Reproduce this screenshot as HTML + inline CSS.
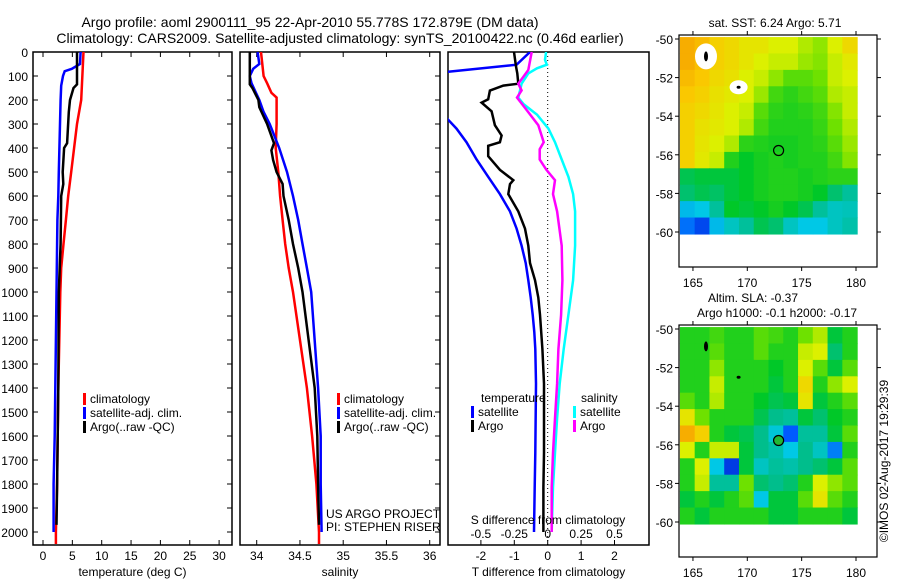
<!DOCTYPE html>
<html><head><meta charset="utf-8">
<style>
html,body{margin:0;padding:0;background:#fff;}
svg{display:block;font-family:"Liberation Sans",sans-serif;}
text{fill:#000;}
</style></head>
<body>
<svg id="fig" width="900" height="580" viewBox="0 0 900 580" xmlns="http://www.w3.org/2000/svg">
<defs>
<clipPath id="c1"><rect x="33" y="52" width="199" height="493"/></clipPath>
<clipPath id="c2"><rect x="240" y="52" width="200" height="493"/></clipPath>
<clipPath id="c3"><rect x="448" y="52" width="201" height="493"/></clipPath>
</defs>
<text x="310" y="27" font-size="14" text-anchor="middle">Argo profile: aoml 2900111_95 22-Apr-2010 55.778S 172.879E (DM data)</text>
<text x="340" y="43" font-size="14" text-anchor="middle">Climatology: CARS2009. Satellite-adjusted climatology: synTS_20100422.nc (0.46d earlier)</text>
<g id="g1"></g>
<g id="g2"></g>
<g id="g3"></g>
<g id="m1"></g>
<g id="m2"></g>
<text x="0" y="0" font-size="12" transform="translate(888,461) rotate(-90)" text-anchor="middle">©IMOS 02-Aug-2017 19:29:39</text>
</svg>
<script>
// ---- profile data ----
const depthTicks=[0,100,200,300,400,500,600,700,800,900,1000,1100,1200,1300,1400,1500,1600,1700,1800,1900,2000];
const tempTicks=[0,5,10,15,20,25,30];
const salTicks=[34,34.5,35,35.5,36];
const salTickLabels=["34","34.5","35","35.5","36"];
const tdTicks=[-2,-1,0,1,2];
const sdTicks=[-0.5,-0.25,0,0.25,0.5];
const sdTickLabels=["-0.5","-0.25","0","0.25","0.5"];

const tClimDepth=[0,200,300,400,500,600,700,800,900,1000,1400,1600,1800,2000,2050];
const tClim=[6.9,6.5,5.8,5.3,4.8,4.3,3.9,3.5,3.1,2.95,2.6,2.5,2.4,2.2,2.2];
const tSatDepth=[0,50,70,80,100,140,200,300,500,600,700,1000,1400,1600,1800,2000];
const tSat=[6.4,6.3,4.9,3.7,3.4,3.1,3.0,2.9,2.7,2.6,2.45,2.3,2.1,2.0,1.8,1.8];
const tArgoDepth=[0,100,135,150,200,250,380,400,500,550,600,800,1000,1400,1600,1800,1970];
const tArgo=[5.8,5.8,5.8,5.2,4.6,4.4,4.1,3.6,3.35,3.45,3.1,3.0,2.7,2.6,2.5,2.4,2.3];

const sClimDepth=[0,100,130,170,190,250,300,400,500,600,700,800,900,1000,1400,1600,1800,2000,2050];
const sClim=[34.05,34.08,34.12,34.17,34.23,34.23,34.23,34.22,34.25,34.27,34.30,34.33,34.37,34.42,34.58,34.64,34.69,34.72,34.72];
const sSatDepth=[0,50,70,100,130,200,250,300,400,500,600,700,800,900,1000,1400,1600,1800,2000];
const sSat=[34.01,34.03,33.96,33.92,33.94,34.03,34.08,34.15,34.26,34.35,34.42,34.48,34.53,34.58,34.63,34.71,34.74,34.74,34.75];
const sArgoDepth=[0,135,150,200,230,300,380,410,450,500,550,600,700,800,900,1000,1400,1600,1800,1970];
const sArgo=[33.92,33.92,33.95,34.02,34.03,34.12,34.20,34.17,34.19,34.23,34.30,34.31,34.37,34.42,34.48,34.53,34.67,34.70,34.71,34.72];

const dTSatDepth=[0,53,82,90,270,279,319,376,448,520,592,664,736,807,879,951,1023,1095,1167,1238,1382,1670,1813,2000];
const dTSat=[-0.53,-0.93,-2.98,-3.5,-3.5,-3.0,-2.73,-2.43,-2.13,-1.78,-1.43,-1.13,-0.93,-0.78,-0.66,-0.58,-0.51,-0.45,-0.40,-0.37,-0.35,-0.37,-0.39,-0.41];
const dTArgoDepth=[0,60,89,132,140,161,197,211,247,305,348,376,391,434,491,534,550,592,664,736,807,879,951,1023,1095,1238,1382,1670,1813,2000];
const dTArgo=[-1.01,-0.95,-0.91,-0.88,-1.33,-1.73,-1.78,-1.98,-1.68,-1.58,-1.38,-1.43,-1.78,-1.78,-1.43,-1.03,-1.13,-1.18,-0.88,-0.68,-0.58,-0.53,-0.38,-0.28,-0.23,-0.16,-0.11,-0.11,-0.13,-0.13];
const dSSatDepth=[0,32,53,68,89,132,190,218,261,319,376,448,520,592,664,736,807,951,1095,1238,1382,1526,1670,1813,2000];
const dSSat=[-0.012,-0.02,-0.007,-0.08,-0.145,-0.195,-0.22,-0.18,-0.08,0.005,0.055,0.105,0.155,0.19,0.205,0.205,0.205,0.19,0.155,0.12,0.09,0.07,0.055,0.04,0.03];
const dSArgoDepth=[0,75,132,160,190,233,305,376,405,448,491,534,592,664,807,951,1095,1238,1382,1526,1670,1813,2000];
const dSArgo=[-0.12,-0.145,-0.22,-0.195,-0.23,-0.17,-0.07,-0.03,-0.06,-0.06,-0.01,0.055,0.04,0.07,0.105,0.11,0.10,0.08,0.07,0.055,0.04,0.03,0.03];

// ---- map data (colour index 0..1, -1 = land/white) ----
const sstGrid=[
[0.88,0.85,0.8,0.78,0.75,0.75,0.72,0.72,0.68,0.65,0.72,0.78],
[0.88,0.84,0.8,0.78,0.75,0.72,0.7,0.7,0.66,0.64,0.7,0.74],
[0.85,0.82,0.78,0.76,0.72,0.7,0.65,0.6,0.6,0.62,0.7,0.72],
[0.82,0.8,0.76,0.74,0.72,0.66,0.58,0.56,0.58,0.6,0.68,0.7],
[0.8,0.78,0.75,0.72,0.7,0.6,0.56,0.55,0.56,0.58,0.64,0.7],
[0.8,0.76,0.74,0.72,0.68,0.58,0.55,0.55,0.55,0.57,0.62,0.68],
[0.8,0.75,0.72,0.68,0.56,0.55,0.54,0.54,0.55,0.56,0.6,0.66],
[0.8,0.74,0.7,0.55,0.52,0.54,0.55,0.54,0.55,0.55,0.58,0.64],
[0.48,0.5,0.5,0.5,0.52,0.54,0.55,0.55,0.54,0.55,0.56,0.56],
[0.45,0.48,0.46,0.5,0.52,0.54,0.55,0.55,0.54,0.52,0.45,0.4],
[0.28,0.3,0.4,0.52,0.5,0.52,0.54,0.52,0.48,0.4,0.35,0.36],
[0.18,0.12,0.28,0.35,0.4,0.48,0.45,0.35,0.3,0.3,0.35,0.38]];
const slaGrid=[
[0.55,0.55,0.58,0.55,0.55,0.6,0.58,0.55,0.62,0.68,0.5,0.55],
[0.55,0.55,0.6,0.55,0.55,0.6,0.55,0.55,0.7,0.72,0.45,0.55],
[0.55,0.55,0.65,0.55,0.55,0.55,0.52,0.55,0.72,0.6,0.5,0.6],
[0.55,0.55,0.7,0.55,0.55,0.55,0.5,0.55,0.78,0.55,0.65,0.72],
[0.6,0.55,0.68,0.55,0.55,0.52,0.48,0.5,0.75,0.5,0.55,0.6],
[0.75,0.62,0.55,0.55,0.55,0.48,0.42,0.4,0.5,0.45,0.52,0.55],
[0.88,0.8,0.55,0.5,0.48,0.42,0.32,0.15,0.4,0.4,0.5,0.6],
[0.72,0.55,0.7,0.7,0.5,0.42,0.38,0.3,0.42,0.35,0.2,0.55],
[0.55,0.72,0.3,0.1,0.5,0.35,0.4,0.38,0.42,0.45,0.5,0.6],
[0.55,0.7,0.4,0.4,0.62,0.45,0.42,0.45,0.55,0.72,0.65,0.6],
[0.5,0.55,0.5,0.55,0.6,0.3,0.5,0.5,0.6,0.75,0.6,0.55],
[0.55,0.5,0.55,0.55,0.55,0.55,0.5,0.5,0.55,0.55,0.55,0.5]];
const lonTicks=[165,170,175,180];
const latTicks=[-50,-52,-54,-56,-58,-60];
const argoLon=172.879, argoLat=-55.778;
const islandLon=[166.2,169.2], islandLat=[-50.9,-52.5];

const NS="http://www.w3.org/2000/svg";
function el(parent,tag,attrs){const e=document.createElementNS(NS,tag);for(const k in attrs)e.setAttribute(k,attrs[k]);parent.appendChild(e);return e;}
function txt(parent,x,y,s,anchor,size){const t=el(parent,'text',{x:x,y:y,'font-size':size||12,'text-anchor':anchor||'start'});t.textContent=s;return t;}

const TOP=52,BOT=545;
const yD=d=>TOP+d*0.24;

function panel(g,x0,x1,xs,ticks,labels,title,clip,sides){
  const fr=el(g,'rect',{x:x0,y:TOP,width:x1-x0,height:BOT-TOP,fill:'none',stroke:'#000','stroke-width':1.5});
  
  ticks.forEach((v,i)=>{const X=xs(v);
    el(g,'line',{x1:X,y1:BOT,x2:X,y2:BOT-5,stroke:'#000'});
    if(sides.top) el(g,'line',{x1:X,y1:TOP,x2:X,y2:TOP+5,stroke:'#000'});
    const t=txt(g,X,560,labels[i],'middle');
    });
  const tt=txt(g,(x0+x1)/2,576,title,'middle');
  
  depthTicks.forEach(d=>{
    if(sides.left) el(g,'line',{x1:x0,y1:yD(d),x2:x0+5,y2:yD(d),stroke:'#000'});
    if(sides.right) el(g,'line',{x1:x1,y1:yD(d),x2:x1-5,y2:yD(d),stroke:'#000'});
  });
}
function line(g,xs,vals,depths,color,clip,name){
  const pts=vals.map((v,i)=>xs(v).toFixed(1)+','+yD(depths[i]).toFixed(1)).join(' ');
  const p=el(g,'polyline',{points:pts,fill:'none',stroke:color,'stroke-width':2.5,'clip-path':'url(#'+clip+')'});
  
  
}
function legend(g,x,y,items){
  items.forEach((it,i)=>{const yy=y+i*14;
    el(g,'rect',{x:x,y:yy-10,width:3,height:12,fill:it[1]});
    const t=txt(g,x+7,yy,it[0]);
    });
}

// panel 1 temperature
const g1=document.getElementById('g1');
const xT=v=>43+v*5.87;
depthTicks.forEach(d=>{const t=txt(g1,28,yD(d)+5,String(d),'end');
  });
panel(g1,33,232,xT,tempTicks,tempTicks.map(String),'temperature (deg C)','c1',{left:1,right:1,top:1});
line(g1,xT,tClim,tClimDepth,'#ff0000','c1','temp-climatology-line');
line(g1,xT,tSat,tSatDepth,'#0000ff','c1','temp-satellite-line');
line(g1,xT,tArgo,tArgoDepth,'#000000','c1','temp-argo-line');
legend(g1,83,403,[['climatology','#ff0000'],['satellite-adj. clim.','#0000ff'],['Argo(..raw -QC)','#000']]);

// panel 2 salinity
const g2=document.getElementById('g2');
const xS=v=>256.7+(v-34)*86.5;
panel(g2,240,440,xS,salTicks,salTickLabels,'salinity','c2',{left:0,right:1,top:1});
line(g2,xS,sClim,sClimDepth,'#ff0000','c2','sal-climatology-line');
line(g2,xS,sSat,sSatDepth,'#0000ff','c2','sal-satellite-line');
line(g2,xS,sArgo,sArgoDepth,'#000000','c2','sal-argo-line');
legend(g2,337,403,[['climatology','#ff0000'],['satellite-adj. clim.','#0000ff'],['Argo(..raw -QC)','#000']]);
let t=txt(g2,326,518,'US ARGO PROJECT');
t=txt(g2,326,531,'PI: STEPHEN RISER');

// panel 3 differences
const g3=document.getElementById('g3');
const xTd=v=>547.7+v*33.4;
const xSd=v=>547.7+v*4*33.4;
panel(g3,448,649,xTd,tdTicks,tdTicks.map(String),'T difference from climatology','c3',{left:0,right:0,top:0});
el(g3,'line',{x1:xTd(0),y1:TOP,x2:xTd(0),y2:BOT,stroke:'#000','stroke-dasharray':'1,3'});
line(g3,xTd,dTSat,dTSatDepth,'#0000ff','c3','tdiff-satellite-line');
line(g3,xTd,dTArgo,dTArgoDepth,'#000000','c3','tdiff-argo-line');
line(g3,xSd,dSSat,dSSatDepth,'#00ffff','c3','sdiff-satellite-line');
line(g3,xSd,dSArgo,dSArgoDepth,'#ff00ff','c3','sdiff-argo-line');
sdTicks.forEach((v,i)=>{const tt=txt(g3,xSd(v),538,sdTickLabels[i],'middle');
  });
t=txt(g3,548,524,'S difference from climatology','middle');
t=txt(g3,481,402,'temperature');
t=txt(g3,581,402,'salinity');
legend(g3,471,416,[['satellite','#0000ff'],['Argo','#000']]);
legend(g3,573,416,[['satellite','#00ffff'],['Argo','#ff00ff']]);

// maps
const stops=[[0,[0,0,170]],[0.15,[0,90,255]],[0.3,[0,200,230]],[0.42,[0,190,140]],[0.52,[0,200,40]],[0.62,[110,225,0]],[0.72,[220,240,0]],[0.82,[250,200,0]],[1,[240,120,0]]];
function cmap(v){for(let i=1;i<stops.length;i++){if(v<=stops[i][0]){const a=stops[i-1],b=stops[i],f=(v-a[0])/(b[0]-a[0]);
  return 'rgb('+a[1].map((c,k)=>Math.round(c+(b[1][k]-c)*f)).join(',')+')';}}return 'rgb(240,120,0)';}
function map(id,top,grid,titles,fillCircle){
  const g=document.getElementById(id);
  const xL=lon=>856+(lon-180)*10.87;
  const yL=lat=>top+4+(-50-lat)*19.3;
  const x0=xL(163.8),x1=xL(180.1),y0=yL(-49.9),y1=yL(-60.1);
  const nr=grid.length,nc=grid[0].length,cw=(x1-x0)/nc,ch=(y1-y0)/nr;
  grid.forEach((row,r)=>row.forEach((v,c)=>{
    const cell=el(g,'rect',{x:(x0+c*cw).toFixed(2),y:(y0+r*ch).toFixed(2),width:(cw+0.6).toFixed(2),height:(ch+0.6).toFixed(2),fill:cmap(v)});
    
    
  }));
  islandLon.forEach((lo,i)=>{
    if(!fillCircle) el(g,'ellipse',{cx:xL(lo),cy:yL(islandLat[i]),rx:i?9:11,ry:i?7:13,fill:'#fff'});
    const isl=el(g,'ellipse',{cx:xL(lo),cy:yL(islandLat[i]),rx:i?2:2,ry:i?1.5:5,fill:'#000'});
    
  });
  const fr=el(g,'rect',{x:679,y:top,width:198,height:232,fill:'none',stroke:'#000','stroke-width':1.2});
  
  lonTicks.forEach(lo=>{el(g,'line',{x1:xL(lo),y1:top,x2:xL(lo),y2:top-4,stroke:'#000'});
    el(g,'line',{x1:xL(lo),y1:top+232,x2:xL(lo),y2:top+236,stroke:'#000'});
    const tt=txt(g,xL(lo),top+252,String(lo),'middle');});
  latTicks.forEach(la=>{el(g,'line',{x1:679,y1:yL(la),x2:675,y2:yL(la),stroke:'#000'});
    el(g,'line',{x1:877,y1:yL(la),x2:881,y2:yL(la),stroke:'#000'});
    const tt=txt(g,673,yL(la)+5,String(la),'end');});
  const c=el(g,'circle',{cx:xL(argoLon),cy:yL(argoLat),r:5,fill:fillCircle?'#22b833':'none',stroke:'#000','stroke-width':1.2});
  
  titles.forEach((s,i)=>{const tt=txt(g,s[1],s[2],s[0],'middle');});
}
map('m1',35,sstGrid,[['sat. SST: 6.24 Argo: 5.71',775,27]],false);
map('m2',325,slaGrid,[['Altim. SLA: -0.37',753,302],['Argo h1000: -0.1 h2000: -0.17',777,317]],true);
</script>
</body></html>
